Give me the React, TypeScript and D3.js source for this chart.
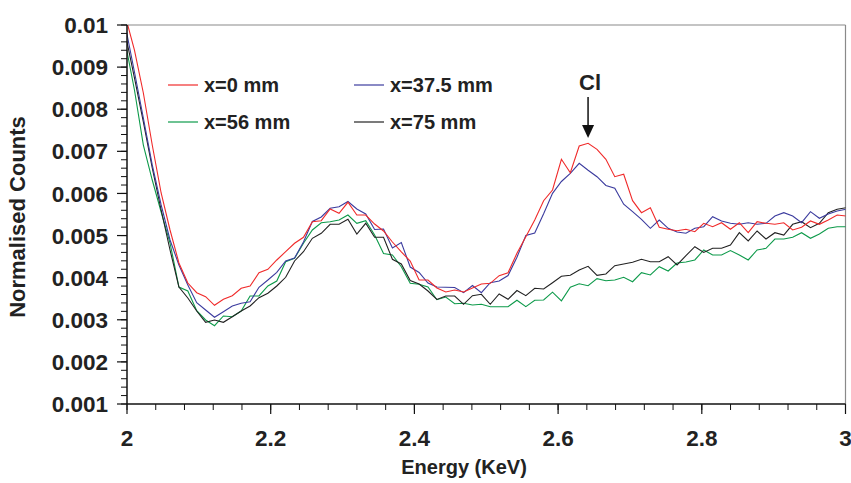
import React from "react";
import * as d3 from "d3";

// Energy channel grid (keV)
const energies: number[] = d3.range(82).map((i) => 1.998 + i * 0.01238);

const seriesNames = ["x=0 mm", "x=37.5 mm", "x=56 mm", "x=75 mm"];

const red0: number[] = [
  0.01019, 0.009406, 0.008385, 0.00715, 0.006011, 0.005132, 0.004348, 0.003873, 0.003643, 0.003548,
  0.003344, 0.003486, 0.003572, 0.003748, 0.003802, 0.004118, 0.004199, 0.00442, 0.004617, 0.004816,
  0.004959, 0.005329, 0.005353, 0.005631, 0.005529, 0.00579, 0.005488, 0.005488, 0.005274, 0.005108,
  0.004847, 0.00461, 0.004396, 0.003945, 0.003945, 0.003755, 0.00366, 0.003707, 0.00366, 0.003755,
  0.00385, 0.003866, 0.004047, 0.004118, 0.004579, 0.004973, 0.005369, 0.005828, 0.006082, 0.006811,
  0.006493, 0.007127, 0.007191, 0.007048, 0.006811, 0.006398, 0.006455, 0.005828, 0.005543, 0.005662,
  0.005196, 0.005149, 0.005115, 0.005149, 0.005092, 0.005291, 0.00521, 0.005305, 0.005149, 0.005305,
  0.005068, 0.005329, 0.005291, 0.005267, 0.005305, 0.005132, 0.005196, 0.005346, 0.005267, 0.005369,
  0.005488, 0.005464,
];

const blue375: number[] = [
  0.009953, 0.008884, 0.007792, 0.006676, 0.005726, 0.004895, 0.004301, 0.003826, 0.003406, 0.003232,
  0.003059, 0.003192, 0.003327, 0.003391, 0.003429, 0.003771, 0.003945, 0.004127, 0.004396, 0.004467,
  0.004847, 0.005334, 0.005441, 0.005647, 0.005685, 0.005809, 0.005631, 0.005512, 0.005144, 0.005156,
  0.004705, 0.004835, 0.004253, 0.004123, 0.003873, 0.003778, 0.003771, 0.003766, 0.003643, 0.003814,
  0.003643, 0.00388, 0.003921, 0.004051, 0.004486, 0.005001, 0.005061, 0.005517, 0.006003, 0.006284,
  0.006478, 0.006716, 0.00655, 0.006398, 0.006189, 0.006122, 0.005745, 0.005567, 0.005386, 0.005172,
  0.005369, 0.005172, 0.005084, 0.005054, 0.005172, 0.00521, 0.005448, 0.005346, 0.005291, 0.005267,
  0.005305, 0.005267, 0.005291, 0.005464, 0.005543, 0.005464, 0.005305, 0.005567, 0.00541, 0.005512,
  0.005583, 0.005624,
];

const green56: number[] = [
  0.009549, 0.008457, 0.00715, 0.006319, 0.005559, 0.004823, 0.003778, 0.003683, 0.003216, 0.002995,
  0.002859, 0.00309, 0.003073, 0.003208, 0.003565, 0.003565, 0.003802, 0.003921, 0.004379, 0.00446,
  0.004816, 0.005132, 0.005305, 0.005329, 0.005369, 0.005488, 0.005291, 0.005353, 0.005013, 0.004574,
  0.004538, 0.00426, 0.003866, 0.003843, 0.003778, 0.003477, 0.003541, 0.003382, 0.003391, 0.003351,
  0.003368, 0.003311, 0.003311, 0.003311, 0.003463, 0.003311, 0.003463, 0.00347, 0.003655, 0.003451,
  0.003771, 0.003854, 0.003809, 0.003976, 0.003928, 0.003945, 0.004009, 0.003904, 0.004118, 0.004063,
  0.00426, 0.004158, 0.004348, 0.004372, 0.00442, 0.004657, 0.004538, 0.004538, 0.004645, 0.004538,
  0.00442, 0.004657, 0.004697, 0.004918, 0.004918, 0.004959, 0.005068, 0.004935, 0.005037, 0.005172,
  0.00521, 0.00521,
];

const black75: number[] = [
  0.009763, 0.008742, 0.007697, 0.006604, 0.005607, 0.004657, 0.003778, 0.003517, 0.003208, 0.00294,
  0.002995, 0.00294, 0.003073, 0.003208, 0.003327, 0.003524, 0.003629, 0.003802, 0.004009, 0.004396,
  0.004617, 0.004935, 0.005054, 0.005267, 0.005267, 0.005386, 0.005037, 0.005291, 0.004959, 0.004959,
  0.004436, 0.004325, 0.003933, 0.00385, 0.003683, 0.003482, 0.003565, 0.003565, 0.003368, 0.003572,
  0.003605, 0.003368, 0.003612, 0.003486, 0.003695, 0.003572, 0.003748, 0.003731, 0.00388, 0.004035,
  0.004056, 0.004182, 0.00427, 0.004056, 0.004087, 0.004284, 0.004325, 0.004365, 0.004436, 0.004379,
  0.004379, 0.004498, 0.004301, 0.004526, 0.004735, 0.004598, 0.004697, 0.004697, 0.004776, 0.005068,
  0.004871, 0.005108, 0.004918, 0.005068, 0.005013, 0.005267, 0.005329, 0.005187, 0.005291, 0.005543,
  0.005624, 0.005662,
];

const xTicks = [2, 2.2, 2.4, 2.6, 2.8, 3];
const yTicks = [0.001, 0.002, 0.003, 0.004, 0.005, 0.006, 0.007, 0.008, 0.009, 0.01];
const yTickLabels = ["0.001", "0.002", "0.003", "0.004", "0.005", "0.006", "0.007", "0.008", "0.009", "0.01"];

const seriesColors = ["#f02a2a", "#3b3b9e", "#0d9a4a", "#222222"];

const W = 851;
const H = 483;
const left = 127;
const right = 845.5;
const top = 25;
const bottom = 404;

const FONT = "'Liberation Sans', Arial, Helvetica, sans-serif";

export default function App() {
  const x = d3.scaleLinear().domain([2, 3]).range([left, right]);
  const y = d3.scaleLinear().domain([0.001, 0.01]).range([bottom, top]);

  const allSeries = [red0, blue375, green56, black75];
  const drawOrder = [2, 3, 1, 0];

  const line = (vals: number[]) =>
    d3
      .line<number>()
      .x((_, i) => x(energies[i]))
      .y((d) => y(d))(vals) || "";

  const yMinor = d3.range(0.001, 0.01 + 1e-9, 0.0002);
  const xMinor = d3.range(2, 3 + 1e-9, 0.04);

  const legend = [
    { name: seriesNames[0], color: seriesColors[0], lx: 168, ly: 85 },
    { name: seriesNames[1], color: seriesColors[1], lx: 354, ly: 85 },
    { name: seriesNames[2], color: seriesColors[2], lx: 168, ly: 122 },
    { name: seriesNames[3], color: seriesColors[3], lx: 354, ly: 122 },
  ];

  const arrowX = x(2.6417);

  return (
    <div style={{ position: "absolute", left: 0, top: 0 }}>
      <svg width={W} height={H} style={{ display: "block", background: "#fff" }}>
        <defs>
          <clipPath id="plotclip">
            <rect x={left} y={top} width={right - left} height={bottom - top} />
          </clipPath>
        </defs>

        {/* frame top/right */}
        <line x1={left} x2={right} y1={top} y2={top} stroke="#8a8a8a" strokeWidth={1.2} />
        <line x1={right} x2={right} y1={top} y2={bottom} stroke="#8a8a8a" strokeWidth={1.2} />

        {/* series */}
        <g clipPath="url(#plotclip)">
          {drawOrder.map((k) => (
            <path key={k} d={line(allSeries[k])} fill="none" stroke={seriesColors[k]} strokeWidth={1.1} />
          ))}
        </g>

        {/* y axis */}
        <line x1={left} x2={left} y1={top} y2={bottom} stroke="#111" strokeWidth={1.5} />
        {yMinor.map((v, i) => (
          <line key={"ym" + i} x1={left - 6} x2={left} y1={y(v)} y2={y(v)} stroke="#111" strokeWidth={1} />
        ))}
        {yTicks.map((v, i) => (
          <g key={"yt" + i}>
            <line x1={left - 10} x2={left} y1={y(v)} y2={y(v)} stroke="#111" strokeWidth={1.2} />
            <text
              x={108}
              y={y(v)}
              dy="0.36em"
              textAnchor="end"
              fontFamily={FONT}
              fontWeight="bold"
              fontSize={22.5}
              fill="#222"
            >
              {yTickLabels[i]}
            </text>
          </g>
        ))}

        {/* x axis */}
        <line x1={left} x2={right} y1={bottom} y2={bottom} stroke="#111" strokeWidth={1.5} />
        {xMinor.map((v, i) => (
          <line key={"xm" + i} x1={x(v)} x2={x(v)} y1={bottom} y2={bottom + 6} stroke="#111" strokeWidth={1} />
        ))}
        {xTicks.map((v, i) => (
          <g key={"xt" + i}>
            <line x1={x(v)} x2={x(v)} y1={bottom} y2={bottom + 10} stroke="#111" strokeWidth={1.2} />
            <text
              x={x(v)}
              y={446}
              textAnchor="middle"
              fontFamily={FONT}
              fontWeight="bold"
              fontSize={22.5}
              fill="#222"
            >
              {String(v)}
            </text>
          </g>
        ))}

        {/* axis titles */}
        <text
          x={464}
          y={474}
          textAnchor="middle"
          fontFamily={FONT}
          fontWeight="bold"
          fontSize={20}
          fill="#222"
        >
          Energy (KeV)
        </text>
        <text
          transform={`translate(25, 217) rotate(-90)`}
          textAnchor="middle"
          fontFamily={FONT}
          fontWeight="bold"
          fontSize={22}
          fill="#222"
        >
          Normalised Counts
        </text>

        {/* legend */}
        {legend.map((l, i) => (
          <g key={"lg" + i}>
            <line x1={l.lx} x2={l.lx + 30} y1={l.ly} y2={l.ly} stroke={l.color} strokeWidth={1.2} />
            <text
              x={l.lx + 36}
              y={l.ly}
              dy="0.36em"
              fontFamily={FONT}
              fontWeight="bold"
              fontSize={20}
              fill="#222"
            >
              {l.name}
            </text>
          </g>
        ))}

        {/* Cl annotation */}
        <text
          x={arrowX + 2}
          y={90}
          textAnchor="middle"
          fontFamily={FONT}
          fontWeight="bold"
          fontSize={22}
          fill="#222"
        >
          Cl
        </text>
        <line x1={arrowX} x2={arrowX} y1={97} y2={126} stroke="#111" strokeWidth={1.5} />
        <path
          d={`M${arrowX - 6},${125} L${arrowX + 6},${125} L${arrowX},${138} Z`}
          fill="#111"
        />
      </svg>
    </div>
  );
}
